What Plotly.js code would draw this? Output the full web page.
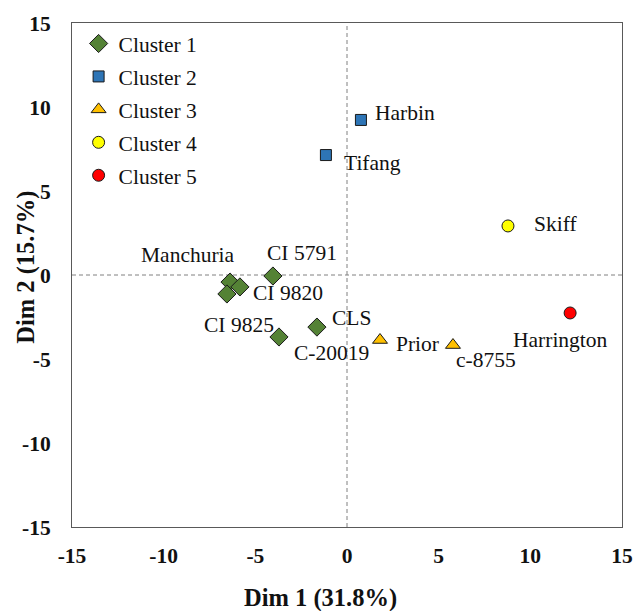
<!DOCTYPE html>
<html><head><meta charset="utf-8">
<script src="https://cdn.plot.ly/plotly-3.0.1.min.js"></script>
<style>html,body{margin:0;padding:0;background:#fff}</style>
</head><body>
<div id="chart" style="width:634px;height:611px"></div>
<script>
// Data
const clusterNames = ["Cluster 1", "Cluster 2", "Cluster 3", "Cluster 4", "Cluster 5"];
const c1Names = ["Manchuria", "CI 9820", "CI 9825", "CI 5791", "C-20019", "CLS"];
const c1X = [-6.38, -5.84, -6.55, -4.04, -3.71, -1.64];
const c1Y = [-0.42, -0.71, -1.13, -0.06, -3.69, -3.10];
const c2Names = ["Harbin", "Tifang"];
const c2X = [0.76, -1.15];
const c2Y = [9.23, 7.14];
const c3Names = ["Prior", "c-8755"];
const c3X = [1.80, 5.78];
const c3Y = [-3.87, -4.17];
const c4Names = ["Skiff"];
const c4X = [8.78];
const c4Y = [2.92];
const c5Names = ["Harrington"];
const c5X = [12.17];
const c5Y = [-2.26];
const tickVals = [-15, -10, -5, 0, 5, 10, 15];
const tickText = ["-15", "-10", "-5", "0", "5", "10", "15"];
const xTitle = "Dim 1 (31.8%)";
const yTitle = "Dim 2 (15.7%)";

// Label offsets (pixels) keyed by name
const labelShift = {
  "Manchuria": [-42, 27], "CI 9820": [48, -6], "CI 9825": [12, -31],
  "CI 5791": [29, 23], "C-20019": [53, -16], "CLS": [35, 9],
  "Harbin": [44, 7], "Tifang": [47, -8], "Prior": [37, -4],
  "c-8755": [33, -15], "Skiff": [48, 2], "Harrington": [-10, -27]
};

const font = "Liberation Serif, Times New Roman, serif";
const FS = 21.5;
const TFS = 24.5;
const styles = [
  {symbol: "diamond", color: "#548235", size: 14},
  {symbol: "square", color: "#2E75B6", size: 11},
  {symbol: "triangle-up", color: "#FFC000", size: 13},
  {symbol: "circle", color: "#FFFF00", size: 12},
  {symbol: "circle", color: "#FF0000", size: 12}
];
const groups = [
  [c1Names, c1X, c1Y], [c2Names, c2X, c2Y], [c3Names, c3X, c3Y],
  [c4Names, c4X, c4Y], [c5Names, c5X, c5Y]
];

const traces = groups.map((g, i) => ({
  type: "scatter", mode: "markers", name: clusterNames[i],
  x: g[1], y: g[2], legendgroup: "g" + i,
  marker: {symbol: styles[i].symbol, color: styles[i].color, size: styles[i].size,
           line: {color: "#1a1a1a", width: 1}},
  hoverinfo: "text", text: g[0]
}));

const annotations = [];
groups.forEach(g => {
  g[0].forEach((n, k) => {
    const s = labelShift[n] || [0, 0];
    annotations.push({x: g[1][k], y: g[2][k], xref: "x", yref: "y", text: n,
      showarrow: false, xshift: s[0], yshift: s[1],
      font: {family: font, size: FS, color: "#111"}});
  });
});
annotations.push({xref: "paper", yref: "paper", x: -0.084, y: 0.516, xanchor: "center", yanchor: "middle",
  textangle: -90, text: "<b>" + yTitle + "</b>", showarrow: false,
  font: {family: font, size: TFS, color: "#111"}});
annotations.push({xref: "paper", yref: "paper", x: 0.451, y: -0.141, xanchor: "center", yanchor: "middle",
  text: "<b>" + xTitle + "</b>", showarrow: false,
  font: {family: font, size: TFS, color: "#111"}});

const layout = {
  width: 634, height: 611,
  margin: {l: 72, r: 12, t: 23, b: 84},
  paper_bgcolor: "#fff", plot_bgcolor: "#fff",
  showlegend: true,
  legend: {x: 0.012, y: 1.0, xanchor: "left", yanchor: "top",
    font: {family: font, size: FS, color: "#111"}, bgcolor: "rgba(0,0,0,0)",
    tracegroupgap: 2, itemwidth: 30},
  xaxis: {range: [-15, 15], tickvals: tickVals, ticktext: tickText, showgrid: false, zeroline: false,
    showline: true, mirror: true, linecolor: "#595959", linewidth: 1, ticks: "",
    ticklabelstandoff: 9,
    tickfont: {family: font, size: FS, color: "#111", weight: "bold"}},
  yaxis: {range: [-15, 15], tickvals: tickVals, ticktext: tickText, showgrid: false, zeroline: false,
    showline: true, mirror: true, linecolor: "#595959", linewidth: 1, ticks: "",
    ticklabelstandoff: 16,
    tickfont: {family: font, size: FS, color: "#111", weight: "bold"}},
  shapes: [
    {type: "line", xref: "x", yref: "y", x0: 0, x1: 0, y0: -15, y1: 15,
     line: {color: "#808080", width: 1, dash: "4px,3px"}, layer: "below"},
    {type: "line", xref: "x", yref: "y", x0: -15, x1: 15, y0: 0, y1: 0,
     line: {color: "#808080", width: 1, dash: "4px,3px"}, layer: "below"}
  ],
  annotations: annotations
};

Plotly.newPlot("chart", traces, layout, {displayModeBar: false, staticPlot: true});
</script>
</body></html>
